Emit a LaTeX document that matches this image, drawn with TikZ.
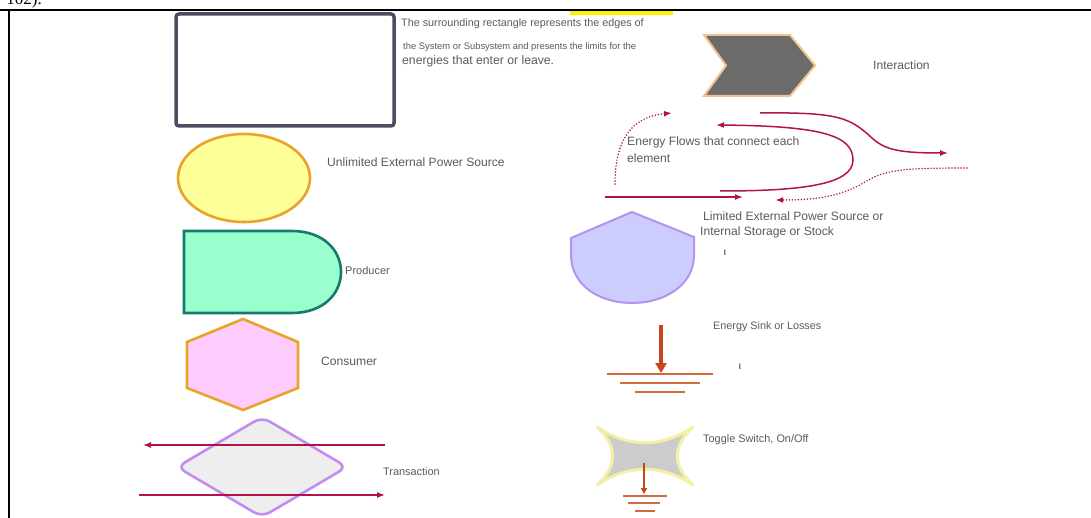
\documentclass[tikz,border=0pt]{standalone}
\usepackage{fontspec}
\setmainfont{Liberation Sans}
\newfontfamily\capfont{Liberation Serif}
\usetikzlibrary{arrows.meta,shapes.geometric}

\definecolor{labelgray}{HTML}{5A5A5A}
\definecolor{framedark}{HTML}{4D4D62}
\definecolor{chevfill}{HTML}{6B6B6B}
\definecolor{chevedge}{HTML}{F2C48C}
\definecolor{sunfill}{HTML}{FFFF99}
\definecolor{sunedge}{HTML}{E9A326}
\definecolor{prodfill}{HTML}{99FFCC}
\definecolor{prodedge}{HTML}{17786C}
\definecolor{consfill}{HTML}{FFCCFF}
\definecolor{transfill}{HTML}{EEEEEE}
\definecolor{transedge}{HTML}{C28CF2}
\definecolor{stockfill}{HTML}{CCCCFF}
\definecolor{stockedge}{HTML}{B394EC}
\definecolor{flow}{HTML}{B0154A}
\definecolor{sink}{HTML}{C4461A}
\definecolor{sinkline}{HTML}{D2693A}
\definecolor{switchfill}{HTML}{CCCCCC}
\definecolor{switchglow}{HTML}{F3EFA6}

\tikzset{
  lbl/.style={anchor=west, inner sep=0pt, text=labelgray, font=\fontsize{12.1}{14}\selectfont},
  flowline/.style={draw=flow, line width=1.5pt, -{Latex[length=8pt,width=6pt]}},
  flowdots/.style={flowline, line width=1.7pt, dash pattern=on 0pt off 3pt, line cap=round},
  groundline/.style={draw=sinkline, line width=2.6pt},
  groundthin/.style={draw=sinkline, line width=2.1pt},
}

\begin{document}
\begin{tikzpicture}[x=1pt,y=-1pt]
\useasboundingbox (0,0) rectangle (1091,518);

% page frame and the caption fragment above it
\node[font=\capfont\fontsize{17}{17}\selectfont, anchor=base east, inner sep=0pt] (cap) at (42,5) {102).};
\fill[yellow] (570,11) rectangle (673,15.5);
\draw[black, line width=2pt] (0,10.5) -- (1091,10.5);
\draw[black, line width=1.5pt] (9,10) -- (9,518);

% system boundary
\draw[framedark, line width=3.5pt, rounded corners=3pt, fill=white] (176,14) rectangle (394,126);
\coordinate (sys) at (285,70);
\node[lbl, font=\fontsize{10.8}{12}\selectfont] (sysA) at (401,24) {The surrounding rectangle represents the edges of};
\node[lbl, font=\fontsize{9.4}{11}\selectfont] (sysB) at (403,47) {the System or Subsystem and presents the limits for the};
\node[lbl, font=\fontsize{12.2}{14}\selectfont] (sysC) at (402,61) {energies that enter or leave.};

% interaction
\draw[chevedge, line width=2pt, fill=chevfill, line join=miter]
  (704,35) -- (790,35) -- (815,65.5) -- (790,96) -- (704,96) -- (726,65.5) -- cycle;
\coordinate (inter) at (760,65);
\node[lbl] (interL) at (873,65) {Interaction};

% unlimited external source
\node[ellipse, draw=sunedge, line width=2.6pt, fill=sunfill, minimum width=132pt, minimum height=88pt] (source) at (244,178) {};
\node[lbl] (sourceL) at (327,162) {Unlimited External Power Source};

% producer
\draw[prodedge, line width=2.6pt, fill=prodfill]
  (184,231) -- (292,231) .. controls (323,231) and (341,250) .. (341,272)
  .. controls (341,294) and (323,313) .. (292,313) -- (184,313) -- cycle;
\coordinate (prod) at (260,272);
\node[lbl, font=\fontsize{11}{13}\selectfont] (prodL) at (345,271) {Producer};

% consumer
\draw[sunedge, line width=2.6pt, fill=consfill, line join=miter]
  (243,319) -- (298,342) -- (298,388) -- (243,410) -- (187,388) -- (187,342) -- cycle;
\coordinate (cons) at (243,365);
\node[lbl] (consL) at (321,361) {Consumer};

% transaction
\draw[transedge, line width=2.6pt, fill=transfill, rounded corners=9pt]
  (262,417) -- (347,467) -- (262,517) -- (177,467) -- cycle;
\coordinate (trA) at (385,445);
\coordinate (trB) at (143,445);
\coordinate (trC) at (139,495);
\coordinate (trD) at (385,495);
\draw[flowline, line width=1.3pt] (trA) -- (trB);
\draw[flowline, line width=1.3pt] (trC) -- (trD);
\node[lbl, font=\fontsize{10.9}{13}\selectfont] (trL) at (383,472) {Transaction};

% energy flows
\coordinate (f1a) at (605,197);
\coordinate (f1b) at (743,197);
\draw[flowline] (f1a) -- (f1b);
\coordinate (f2a) at (615,184);
\coordinate (f2b) at (672,113);
\draw[flowdots] (f2a) .. controls (615,130) and (640,116) .. (f2b);
\coordinate (f3a) at (720,191);
\coordinate (f3b) at (716,125);
\draw[flowline] (f3a) .. controls (800,191) and (853,185) .. (853,160)
  .. controls (853,135) and (820,126) .. (f3b);
\coordinate (f4a) at (760,113);
\coordinate (f4b) at (948,153);
\draw[flowline] (f4a) .. controls (840,112) and (850,118) .. (872,138)
  .. controls (885,150) and (900,153) .. (f4b);
\coordinate (f5a) at (967,168);
\coordinate (f5b) at (775,200);
\draw[flowdots] (f5a) .. controls (900,168) and (885,170) .. (865,182)
  .. controls (840,197) and (815,200) .. (f5b);
\node[lbl] (flowA) at (627,142) {Energy Flows that connect each};
\node[lbl] (flowB) at (627,158) {element};

% limited source / storage
\draw[stockedge, line width=2pt, fill=stockfill, line join=round]
  (632,212) -- (694,237) -- (694,255) .. controls (694,285) and (665,303) .. (632,303)
  .. controls (599,303) and (571,285) .. (571,255) -- (571,238) -- cycle;
\coordinate (stock) at (632,260);
\node[lbl] (stockA) at (703,216) {Limited External Power Source or};
\node[lbl] (stockB) at (700,232) {Internal Storage or Stock};
\node[anchor=center, inner sep=0pt, font=\fontsize{8}{8}\selectfont] (markA) at (725,253) {I};

% energy sink
\coordinate (sinkTop) at (661,325);
\coordinate (sinkBase) at (661,373);
\draw[sink, line width=3.5pt, -{Triangle[length=10pt,width=11pt]}] (sinkTop) -- (sinkBase);
\draw[groundline] (607,374) -- (713,374);
\draw[groundline] (620,383) -- (700,383);
\draw[groundline] (635,392) -- (685,392);
\node[lbl, font=\fontsize{10.8}{12}\selectfont] (sinkL) at (713,327) {Energy Sink or Losses};
\node[anchor=center, inner sep=0pt, font=\fontsize{8}{8}\selectfont] (markB) at (740,367) {I};

% toggle switch
\draw[switchglow, line width=3pt, fill=switchfill, line join=round]
  (597,427) .. controls (628,448) and (662,448) .. (693,427)
  .. controls (672,446) and (672,466) .. (693,485)
  .. controls (662,464) and (628,464) .. (597,485)
  .. controls (618,466) and (618,446) .. (597,427) -- cycle;
\coordinate (swTop) at (644,463);
\coordinate (swBase) at (644,494);
\draw[sink, line width=1.4pt, -{Triangle[length=6pt,width=6pt]}] (swTop) -- (swBase);
\draw[groundthin] (623,496) -- (667,496);
\draw[groundthin] (628,503) -- (660,503);
\draw[groundthin] (635,511) -- (655,511);
\node[lbl, font=\fontsize{10.9}{12}\selectfont] (swL) at (703,440) {Toggle Switch, On/Off};
\end{tikzpicture}
\end{document}
